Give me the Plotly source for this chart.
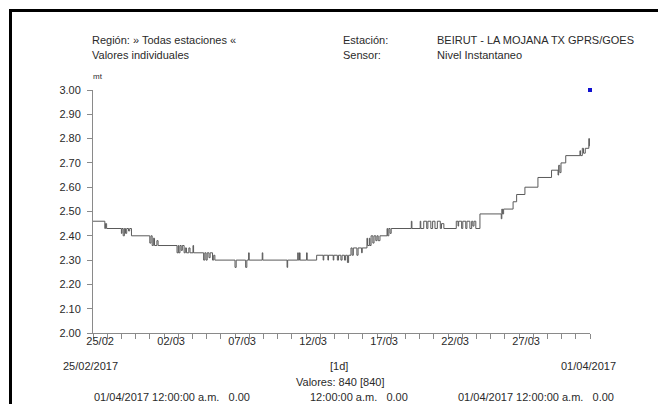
import plotly.graph_objects as go

# ---------------- data ----------------
change_times = [
    "2017-02-25 00:00", "2017-02-25 20:00", "2017-02-25 21:00", "2017-02-25 23:00",
    "2017-02-27 00:00", "2017-02-27 01:00", "2017-02-27 03:00", "2017-02-27 05:00",
    "2017-02-27 07:00", "2017-02-27 09:00", "2017-02-27 12:00", "2017-02-27 14:00",
    "2017-02-27 17:00",
    "2017-03-01 00:00", "2017-03-01 02:00", "2017-03-01 04:00", "2017-03-01 06:00",
    "2017-03-01 08:00", "2017-03-01 12:00", "2017-03-01 14:00",
    "2017-03-02 22:00", "2017-03-03 00:00", "2017-03-03 01:00", "2017-03-03 03:00",
    "2017-03-03 05:00", "2017-03-03 07:00", "2017-03-03 10:00", "2017-03-03 12:00",
    "2017-03-03 14:00", "2017-03-03 18:00", "2017-03-03 20:00", "2017-03-04 01:00",
    "2017-03-04 02:00",
    "2017-03-04 19:00", "2017-03-04 21:00", "2017-03-04 23:00", "2017-03-05 01:00",
    "2017-03-05 04:00", "2017-03-05 06:00", "2017-03-05 10:00", "2017-03-05 12:00",
    "2017-03-05 14:00",
    "2017-03-07 00:00", "2017-03-07 02:00", "2017-03-07 18:00", "2017-03-07 20:00",
    "2017-03-07 23:00", "2017-03-08 00:00", "2017-03-08 22:00", "2017-03-08 23:00",
    "2017-03-10 16:00", "2017-03-10 17:00", "2017-03-11 10:00", "2017-03-11 11:00",
    "2017-03-11 13:00", "2017-03-11 14:00", "2017-03-12 01:00", "2017-03-12 02:00",
    "2017-03-12 18:00", "2017-03-13 05:00", "2017-03-13 06:00", "2017-03-13 13:00",
    "2017-03-13 14:00", "2017-03-13 22:00", "2017-03-13 23:00", "2017-03-14 05:00",
    "2017-03-14 07:00", "2017-03-14 11:00", "2017-03-14 13:00", "2017-03-14 17:00",
    "2017-03-14 19:00", "2017-03-14 22:00", "2017-03-15 00:00",
    "2017-03-15 04:00", "2017-03-15 06:00", "2017-03-15 08:00", "2017-03-15 14:00",
    "2017-03-15 16:00", "2017-03-15 22:00", "2017-03-15 23:00",
    "2017-03-16 07:00", "2017-03-16 08:00", "2017-03-16 11:00", "2017-03-16 12:00",
    "2017-03-16 14:00", "2017-03-16 17:00", "2017-03-16 19:00", "2017-03-16 22:00",
    "2017-03-17 00:00", "2017-03-17 02:00", "2017-03-17 05:00",
    "2017-03-17 17:00", "2017-03-17 18:00", "2017-03-17 20:00", "2017-03-17 22:00",
    "2017-03-18 00:00",
    "2017-03-19 10:00", "2017-03-19 11:00", "2017-03-20 01:00", "2017-03-20 02:00",
    "2017-03-20 07:00", "2017-03-20 12:00", "2017-03-20 14:00", "2017-03-20 19:00",
    "2017-03-20 22:00", "2017-03-21 02:00", "2017-03-21 06:00", "2017-03-21 11:00",
    "2017-03-21 13:00", "2017-03-21 17:00",
    "2017-03-22 14:00", "2017-03-22 17:00", "2017-03-22 18:00", "2017-03-22 23:00",
    "2017-03-23 01:00", "2017-03-23 06:00", "2017-03-23 08:00", "2017-03-23 13:00",
    "2017-03-23 16:00", "2017-03-23 18:00", "2017-03-23 20:00", "2017-03-23 23:00",
    "2017-03-24 06:00",
    "2017-03-25 18:00", "2017-03-25 19:00", "2017-03-25 20:00", "2017-03-25 22:00",
    "2017-03-26 14:00", "2017-03-26 20:00", "2017-03-27 10:00", "2017-03-28 08:00",
    "2017-03-29 07:00", "2017-03-29 18:00", "2017-03-29 19:00", "2017-03-29 21:00",
    "2017-03-29 23:00", "2017-03-30 07:00", "2017-03-31 07:00", "2017-03-31 08:00",
    "2017-03-31 11:00", "2017-03-31 13:00", "2017-03-31 16:00", "2017-03-31 22:00",
    "2017-03-31 23:00", "2017-04-01 00:00",
]
levels = [
    2.46, 2.43, 2.45, 2.43,
    2.41, 2.43, 2.40, 2.43,
    2.41, 2.43, 2.42, 2.43,
    2.40,
    2.37, 2.40, 2.36, 2.39,
    2.36, 2.38, 2.36,
    2.33, 2.36, 2.33, 2.36,
    2.34, 2.36, 2.33, 2.35,
    2.33, 2.35, 2.33, 2.36,
    2.33,
    2.30, 2.33, 2.30, 2.33,
    2.31, 2.33, 2.30, 2.32,
    2.30,
    2.27, 2.30, 2.27, 2.30,
    2.33, 2.30, 2.33, 2.30,
    2.27, 2.30, 2.33, 2.30,
    2.33, 2.30, 2.33, 2.30,
    2.32, 2.30, 2.32, 2.30,
    2.32, 2.30, 2.32, 2.30,
    2.32, 2.30, 2.32, 2.30,
    2.32, 2.29, 2.32,
    2.35, 2.32, 2.35, 2.32,
    2.35, 2.33, 2.35,
    2.39, 2.36, 2.39, 2.36,
    2.40, 2.37, 2.40, 2.38,
    2.40, 2.38, 2.40,
    2.43, 2.40, 2.43, 2.41,
    2.43,
    2.46, 2.43, 2.46, 2.43,
    2.46, 2.43, 2.46, 2.43,
    2.46, 2.43, 2.46, 2.43,
    2.45, 2.43,
    2.46, 2.44, 2.46, 2.43,
    2.46, 2.43, 2.46, 2.43,
    2.46, 2.44, 2.46, 2.43,
    2.49,
    2.47, 2.51, 2.49, 2.51,
    2.54, 2.57, 2.60, 2.64,
    2.67, 2.65, 2.69, 2.66,
    2.70, 2.73, 2.75, 2.73,
    2.76, 2.74, 2.76, 2.80,
    2.77, 2.77,
]
marker_time = ["2017-04-01 00:00"]
marker_value = [3.00]

y_tick_values = [2.0, 2.1, 2.2, 2.3, 2.4, 2.5, 2.6, 2.7, 2.8, 2.9, 3.0]
y_tick_labels = ["2.00", "2.10", "2.20", "2.30", "2.40", "2.50", "2.60", "2.70", "2.80", "2.90", "3.00"]
day_ticks = [
    "2017-02-25", "2017-02-26", "2017-02-27", "2017-02-28", "2017-03-01", "2017-03-02",
    "2017-03-03", "2017-03-04", "2017-03-05", "2017-03-06", "2017-03-07", "2017-03-08",
    "2017-03-09", "2017-03-10", "2017-03-11", "2017-03-12", "2017-03-13", "2017-03-14",
    "2017-03-15", "2017-03-16", "2017-03-17", "2017-03-18", "2017-03-19", "2017-03-20",
    "2017-03-21", "2017-03-22", "2017-03-23", "2017-03-24", "2017-03-25", "2017-03-26",
    "2017-03-27", "2017-03-28", "2017-03-29", "2017-03-30", "2017-03-31", "2017-04-01",
]
label_ticks = ["2017-02-25 12:00", "2017-03-02 12:00", "2017-03-07 12:00", "2017-03-12 12:00",
               "2017-03-17 12:00", "2017-03-22 12:00", "2017-03-27 12:00"]
label_texts = ["25/02", "02/03", "07/03", "12/03", "17/03", "22/03", "27/03"]

# ---------------- layout geometry (page pixels; the page body adds an 8px offset) ----------------
OFF = 8
W, H = 658, 396
L, R, T, B = 93, 590, 90, 333          # plot area in page pixels
FONT = "Liberation Sans, Arial, sans-serif"
FS = 11
TXT = "#2a2a2a"
AX = "#8a8a8a"


def px(x):
    return (x - L) / (R - L)


def py(y):
    return (B - y) / (B - T)


fig = go.Figure()
fig.add_trace(go.Scatter(x=change_times, y=levels, mode="lines", line_shape="hv",
                         line=dict(color="#5a5a5a", width=1), xaxis="x", yaxis="y",
                         hoverinfo="skip", showlegend=False))
fig.add_trace(go.Scatter(x=marker_time, y=marker_value, mode="markers",
                         marker=dict(symbol="square", size=4, color="#1010d0"),
                         xaxis="x2", yaxis="y", showlegend=False, cliponaxis=False))

xr = ["2017-02-25 00:00", "2017-04-01 00:00"]
fig.update_layout(
    width=W, height=H,
    margin=dict(l=L - OFF, r=(W + OFF) - R, t=T - OFF, b=(H + OFF) - B, pad=0),
    paper_bgcolor="white", plot_bgcolor="white",
    font=dict(family=FONT, size=FS, color=TXT),
    xaxis=dict(type="date", range=xr, tickmode="array", tickvals=day_ticks,
               showticklabels=False, ticks="outside", ticklen=5, tickcolor=AX,
               showline=True, linecolor=AX, linewidth=1, showgrid=False, zeroline=False),
    xaxis2=dict(type="date", range=xr, overlaying="x", anchor="y", side="bottom",
                tickmode="array", tickvals=label_ticks, ticktext=label_texts,
                ticks="", showline=False, showgrid=False, zeroline=False,
                tickfont=dict(family=FONT, size=FS, color=TXT)),
    yaxis=dict(range=[2.0, 3.0], tickmode="array", tickvals=y_tick_values,
               ticktext=y_tick_labels, ticks="outside", ticklen=5, tickcolor=AX,
               ticklabelstandoff=4,
               showline=True, linecolor=AX, linewidth=1, showgrid=False, zeroline=False,
               tickfont=dict(family=FONT, size=FS, color=TXT)),
)

ann = []


def text(x, y, s, anchor="left", size=FS):
    ann.append(dict(xref="paper", yref="paper", x=px(x), y=py(y), text=s, showarrow=False,
                    xanchor=anchor, yanchor="middle",
                    font=dict(family=FONT, size=size, color=TXT)))


text(90, 40, "Región: » Todas estaciones «")
text(90, 55, "Valores individuales")
text(341, 40, "Estación:")
text(341, 55, "Sensor:")
text(435, 40, "BEIRUT - LA MOJANA TX GPRS/GOES")
text(435, 55, "Nivel Instantaneo")
text(91, 76, "mt", size=8)
text(90, 366, "25/02/2017", anchor="center")
text(339, 366, "[1d]", anchor="center")
text(588, 366, "01/04/2017", anchor="center")
text(340, 382, "Valores: 840 [840]", anchor="center")
text(92, 397, "01/04/2017 12:00:00 a.m.&nbsp;&nbsp;&nbsp;0.00")
text(308, 397, "12:00:00 a.m.&nbsp;&nbsp;&nbsp;0.00")
text(456, 397, "01/04/2017 12:00:00 a.m.&nbsp;&nbsp;&nbsp;0.00")
# top edge of the scanned box, drawn as a thin black bar
ann.append(dict(xref="paper", yref="paper", x=px(9), y=py(8.5), xanchor="left", yanchor="top",
                text=" ", showarrow=False, width=652, height=3, bgcolor="black",
                borderpad=0, borderwidth=0, font=dict(size=1, color="black")))
fig.update_layout(annotations=ann)

shapes = [
    # left edge of the scanned box
    dict(type="line", xref="paper", yref="paper", x0=px(10.5), y0=py(9.5), x1=px(10.5), y1=py(404),
         line=dict(color="black", width=3)),
]
fig.update_layout(shapes=shapes)

fig.write_html("out.html")
